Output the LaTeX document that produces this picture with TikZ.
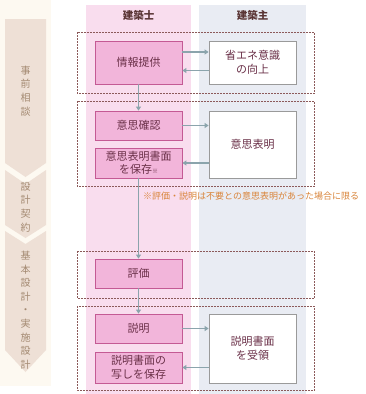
\documentclass[tikz,border=0pt]{standalone}
\usepackage{fontspec}
\setmainfont{Noto Sans CJK JP}
\usetikzlibrary{arrows.meta}
\definecolor{cream}{HTML}{FDF9F1}
\definecolor{chev}{HTML}{EEE0D6}
\definecolor{chevtxt}{HTML}{A48A72}
\definecolor{pinkcol}{HTML}{F9DDEE}
\definecolor{greycol}{HTML}{E9ECF3}
\definecolor{boxfill}{HTML}{F2B5DA}
\definecolor{boxline}{HTML}{C45A94}
\definecolor{boxtxt}{HTML}{6A3048}
\definecolor{grpline}{HTML}{8C5A5A}
\definecolor{arrcol}{HTML}{8BA4AC}
\definecolor{whiteline}{HTML}{9A9A9A}
\definecolor{notecol}{HTML}{D9853B}
\definecolor{headtxt}{HTML}{5A3535}
\tikzset{
  pbox/.style={draw=boxline, line width=0.8pt, fill=boxfill, text=boxtxt, minimum width=87pt, align=center, font=\fontsize{11}{13.5}\selectfont, inner sep=0pt},
  wbox/.style={draw=whiteline, line width=0.7pt, fill=white, text=boxtxt, minimum width=87pt, align=center, font=\fontsize{11}{13.5}\selectfont, inner sep=0pt},
  grp/.style={draw=grpline, dashed, dash pattern=on 2pt off 1pt, line width=0.6pt},
  arr/.style={draw=arrcol, line width=1.1pt, -{Triangle[width=5pt,length=4pt]}},
  chevtext/.style={text=chevtxt, align=center, font=\fontsize{10}{13.6}\selectfont, inner sep=0pt},
  head/.style={text=headtxt, font=\fontsize{10.5}{12}\selectfont\bfseries}
}
\begin{document}
\begin{tikzpicture}[x=1pt,y=-1pt]
\useasboundingbox (0,0) rectangle (365,394);
\fill[white] (0,0) rectangle (365,394);
% left strip
\fill[cream] (0,0) rectangle (51,386);
\fill[chev] (5,19) -- (46,19) -- (46,163) -- (25.5,177) -- (5,163) -- cycle;
\fill[chev] (5,170) -- (25.5,184) -- (46,170) -- (46,225) -- (25.5,238) -- (5,225) -- cycle;
\fill[chev] (5,231) -- (25.5,244) -- (46,231) -- (46,350) -- (25.5,372) -- (5,350) -- cycle;
\node[chevtext] (c1) at (25.5,91) {事\\前\\相\\談};
\node[chevtext] (c2) at (25.5,207) {設\\計\\契\\約};
\node[chevtext] (c3) at (25.5,310) {基\\本\\設\\計\\・\\実\\施\\設\\計};
% columns
\fill[pinkcol] (86,5) rectangle (191,394);
\fill[greycol] (199,5) rectangle (306,394);
\node[head] (h1) at (138.5,15) {建築士};
\node[head] (h2) at (252.5,15) {建築主};
% groups
\draw[grp] (77,32) rectangle (314.5,93);
\draw[grp] (77,101) rectangle (314.5,186);
\draw[grp] (77,251) rectangle (314.5,298);
\draw[grp] (77,306) rectangle (314.5,390);
% boxes
\node[pbox, minimum height=43pt] (info) at (138.5,62.5) {情報提供};
\node[wbox, minimum height=43pt] (ishiki) at (252.5,62.5) {省エネ意識\\の向上};
\node[pbox, minimum height=29pt] (kakunin) at (138.5,125.5) {意思確認};
\node[pbox, minimum height=30pt] (hozon1) at (138.5,163) {意思表明書面\\を保存{\fontsize{6}{6}\selectfont ※}};
\node[wbox, minimum height=67pt] (hyomei) at (252.5,144.5) {意思表明};
\node[pbox, minimum height=29pt] (hyoka) at (138.5,273.5) {評価};
\node[pbox, minimum height=29pt] (setsumei) at (138.5,328.5) {説明};
\node[pbox, minimum height=31pt] (hozon2) at (138.5,367.5) {説明書面の\\写しを保存};
\node[wbox, minimum height=69pt] (juryo) at (252.5,348.5) {説明書面\\を受領};
% note
\node[anchor=west, text=notecol, font=\fontsize{9}{11}\selectfont, inner sep=0pt] (note) at (143,196) {※評価・説明は不要との意思表明があった場合に限る};
% arrows
\draw[arr] ([yshift=10.5pt]info.east) -- ([yshift=10.5pt]info.east -| ishiki.west);
\draw[arr] ([yshift=-8pt]ishiki.west) -- ([yshift=-8pt]ishiki.west -| info.east);
\draw[arr] (info.south) -- (kakunin.north);
\draw[arr] (kakunin.east) -- (kakunin.east -| hyomei.west);
\draw[arr] (hyomei.west |- hozon1.east) -- (hozon1.east);
\draw[arr] (hozon1.south) -- (hyoka.north);
\draw[arr] (hyoka.south) -- (setsumei.north);
\draw[arr] (setsumei.east) -- (setsumei.east -| juryo.west);
\draw[arr] (juryo.west |- hozon2.east) -- (hozon2.east);
\end{tikzpicture}
\end{document}
